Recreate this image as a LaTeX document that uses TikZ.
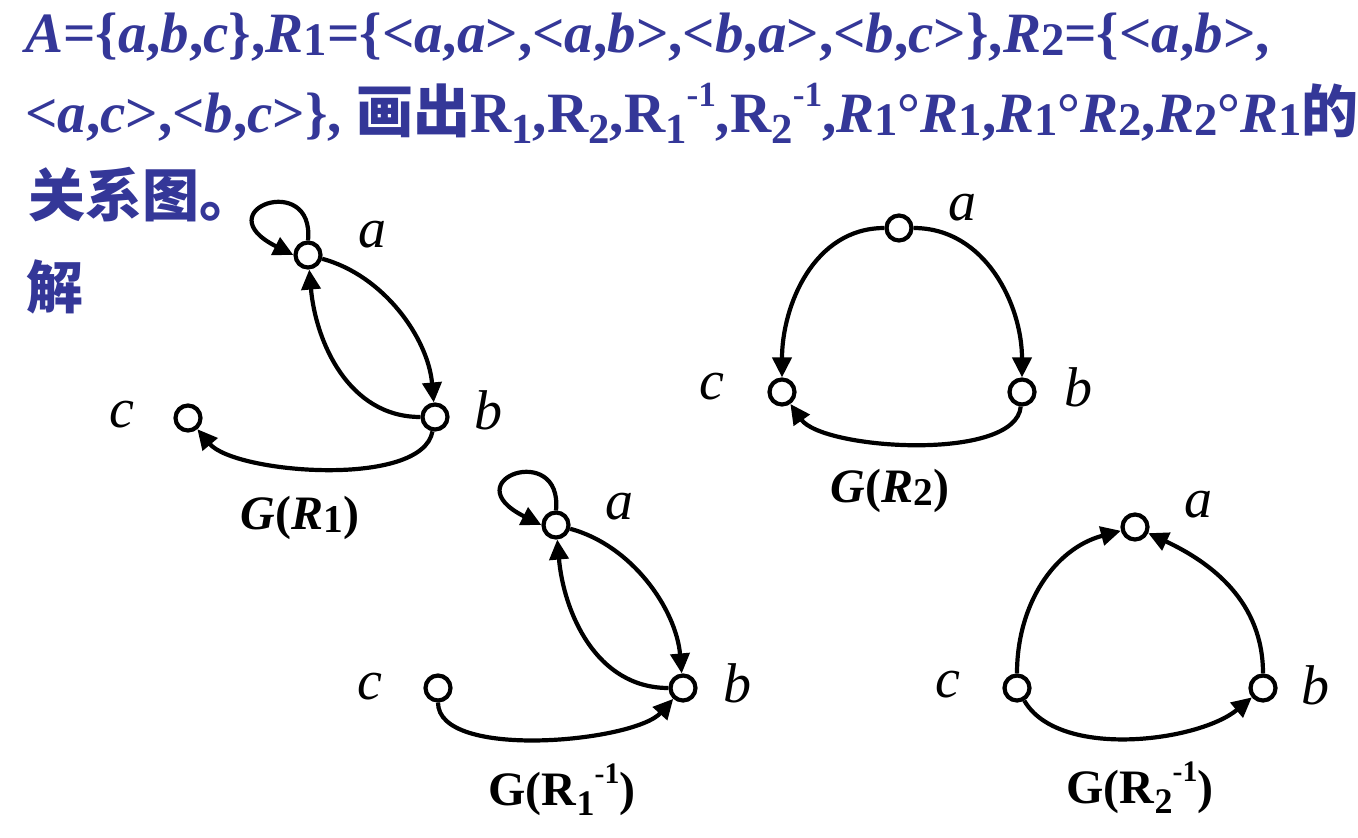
\documentclass[tikz,border=0pt]{standalone}
\usepackage{fontspec}
\usepackage{graphicx}
\setmainfont{Liberation Serif}
\newfontfamily\cjk{Noto Sans CJK SC}
\usetikzlibrary{arrows.meta}
\definecolor{ttlc}{RGB}{52,55,152}
\newcommand\iv[1]{{\itshape #1}}
\newcommand\sbi[1]{\raisebox{-0.06em}{\scalebox{0.82}{\upshape #1}}}
\newcommand\sbu[1]{\raisebox{-0.2em}{\scalebox{0.75}{#1}}}
\newcommand\spr[1]{\raisebox{0.45em}{\scalebox{0.62}{#1}}}
\tikzset{
  vtx/.style={circle, draw, line width=4.2pt, minimum size=25pt, inner sep=0pt, fill=white},
  arc/.style={line width=4.2pt, -{Triangle[length=20pt,width=19pt]}},
  lab/.style={inner sep=0pt, font=\fontsize{56}{60}\selectfont\itshape},
  gt/.style={inner sep=0pt, font=\fontsize{48}{50}\selectfont\bfseries},
  ttl/.style={inner sep=0pt, anchor=base west, text=ttlc, font=\fontsize{57}{60}\selectfont\bfseries}
}
\begin{document}
\begin{tikzpicture}[x=1pt,y=1pt]
\useasboundingbox (0,0) rectangle (1358,-838);
% title
\node[ttl] (t1) at (25,-52) {\iv{A}=\{\iv{a},\iv{b},\iv{c}\},\iv{R}\sbi{1}=\{<\iv{a},\iv{a}>,<\iv{a},\iv{b}>,<\iv{b},\iv{a}>,<\iv{b},\iv{c}>\},\iv{R}\sbi{2}=\{<\iv{a},\iv{b}>,};
\node[ttl] (t2) at (25,-132) {<\iv{a},\iv{c}>,<\iv{b},\iv{c}>\}, {\cjk 画出}R\sbu{1},R\sbu{2},R\sbu{1}\spr{-1},R\sbu{2}\spr{-1},\iv{R}\sbi{1}°\iv{R}\sbi{1},\iv{R}\sbi{1}°\iv{R}\sbi{2},\iv{R}\sbi{2}°\iv{R}\sbi{1}{\cjk 的}};
\node[ttl] (t3) at (28,-216) {\cjk 关系图。};
\node[ttl] (t4) at (26,-308) {\cjk 解};
% G(R1)
\node[vtx] (a1) at (308,-255) {};
\node[vtx] (b1) at (435,-417) {};
\node[vtx] (c1) at (188,-418) {};
\node[lab] (la1) at (372,-235) {a};
\node[lab] (lb1) at (488,-410) {b};
\node[lab] (lc1) at (122,-415) {c};
\node[gt] (g1) at (300,-518) {\iv{G}(\iv{R}\sbi{1})};
\draw[arc] (a1.north) .. controls +(7,70) and +(-90,45) .. (a1.west);
\draw[arc] (a1) to[out=-15,in=95,looseness=0.9] (b1);
\draw[arc] (b1) to[out=180,in=-85] (a1);
\draw[arc] (b1) to[out=-100,in=-50,looseness=0.63] (c1);
% G(R2)
\node[vtx] (a3) at (899,-228) {};
\node[vtx] (b3) at (1022,-392) {};
\node[vtx] (c3) at (782,-392) {};
\node[lab] (la3) at (962,-208) {a};
\node[lab] (lb3) at (1078,-387) {b};
\node[lab] (lc3) at (712,-387) {c};
\node[gt] (g3) at (890,-491) {\iv{G}(\iv{R}\sbi{2})};
\draw[arc] (a3) to[out=180,in=90] (c3);
\draw[arc] (a3) to[out=0,in=90] (b3);
\draw[arc] (b3) to[out=-95,in=-55,looseness=0.62] (c3);
% G(R1^-1)
\node[vtx] (a2) at (556,-525) {};
\node[vtx] (b2) at (683,-688) {};
\node[vtx] (c2) at (438,-688) {};
\node[lab] (la2) at (619,-507) {a};
\node[lab] (lb2) at (737,-683) {b};
\node[lab] (lc2) at (370,-687) {c};
\node[gt] (g2) at (562,-790) {G(R\sbu{1}\spr{-1})};
\draw[arc] (a2.north) .. controls +(7,70) and +(-90,45) .. (a2.west);
\draw[arc] (a2) to[out=-15,in=95,looseness=0.9] (b2);
\draw[arc] (b2) to[out=180,in=-85] (a2);
\draw[arc] (c2) to[out=-90,in=-132,looseness=0.63] (b2);
% G(R2^-1)
\node[vtx] (a4) at (1135,-527) {};
\node[vtx] (b4) at (1263,-688) {};
\node[vtx] (c4) at (1017,-688) {};
\node[lab] (la4) at (1198,-505) {a};
\node[lab] (lb4) at (1315,-685) {b};
\node[lab] (lc4) at (948,-685) {c};
\node[gt] (g4) at (1140,-788) {G(R\sbu{2}\spr{-1})};
\draw[arc] (c4) to[out=90,in=195] (a4);
\draw[arc] (b4) to[out=90,in=-25] (a4);
\draw[arc] (c4) to[out=-60,in=-140,looseness=0.77] (b4);
\end{tikzpicture}
\end{document}
